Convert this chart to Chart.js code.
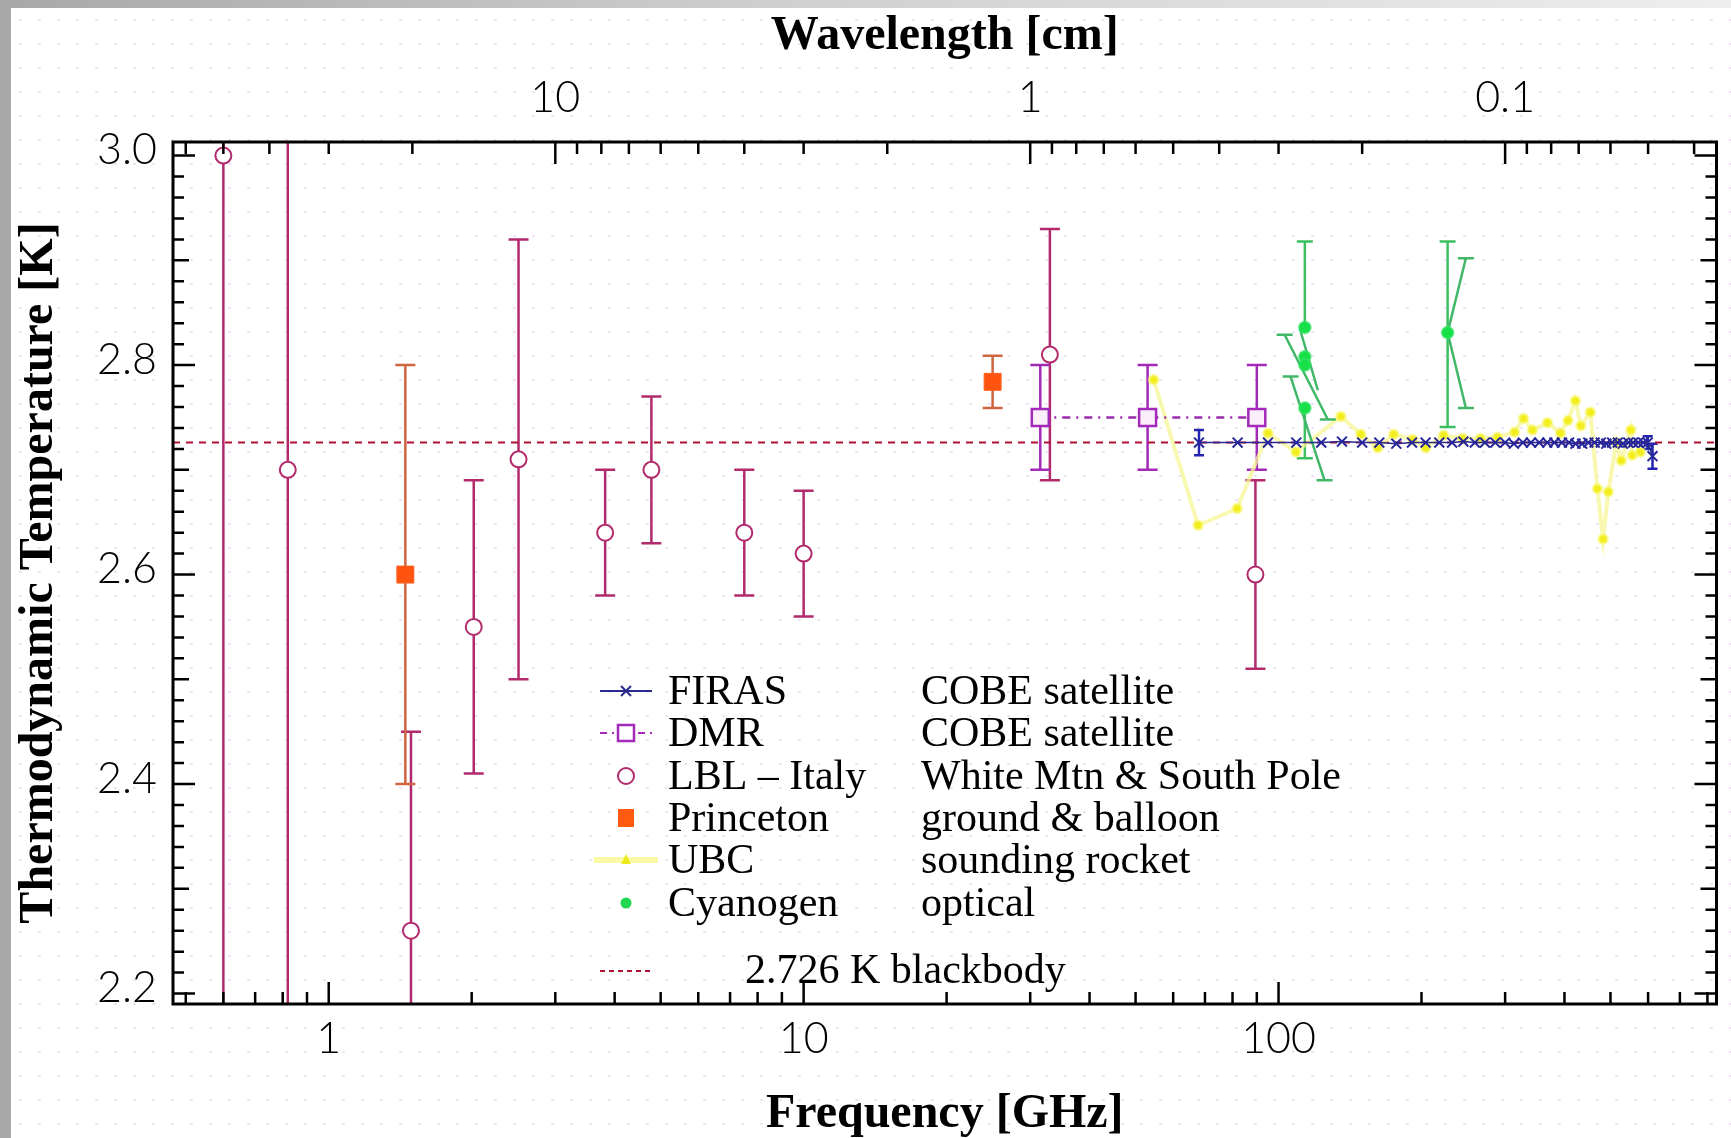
<!DOCTYPE html>
<html>
<head>
<meta charset="utf-8">
<title>CMB thermodynamic temperature</title>
<script src="https://cdn.jsdelivr.net/npm/chart.js@4.4.0/dist/chart.umd.min.js"></script>
<style>
  html, body { margin: 0; padding: 0; }
  body {
    width: 1731px; height: 1138px; overflow: hidden; position: relative;
    background: linear-gradient(90deg, #a8a8a8 0%, #cfcfcf 45%, #eeeeee 100%);
  }
  #panel {
    position: absolute; left: 11px; top: 8px; right: 0; bottom: 0;
    background-color: #fff;
    background-image: radial-gradient(circle, rgba(210,180,240,0.45) 0.9px, transparent 1.5px);
    background-size: 19px 24px;
  }
  #wrap { position: absolute; left: 0; top: 0; width: 1731px; height: 1138px; }
</style>
</head>
<body>
<div id="panel"></div>
<div id="wrap"><canvas id="myChart"></canvas></div>
<script>
// axis ranges (frequency in GHz, temperature in K)
const xMin = 0.47;
const xMax = 836;
const yMin = 2.19;
const yMax = 3.013;

// FIRAS - COBE satellite
const firasFreq = [68, 82, 95, 109, 123, 136, 150, 163, 177, 191, 204, 218, 232, 245, 259, 272,
  286, 300, 313, 327, 340, 354, 368, 381, 395, 409, 422, 436, 449, 463, 477, 490, 504, 518,
  531, 545, 558, 572, 586, 599, 613];
const firasTemp = [2.726, 2.726, 2.726, 2.726, 2.726, 2.727, 2.726, 2.726, 2.725, 2.726, 2.726,
  2.726, 2.726, 2.727, 2.726, 2.726, 2.726, 2.726, 2.725, 2.726, 2.726, 2.726, 2.726, 2.726,
  2.726, 2.726, 2.725, 2.725, 2.726, 2.726, 2.726, 2.725, 2.726, 2.726, 2.725, 2.726, 2.726,
  2.726, 2.726, 2.726, 2.713];
const firasErr = [0.012, 0, 0, 0, 0, 0, 0, 0, 0, 0, 0, 0, 0, 0, 0, 0, 0, 0, 0, 0, 0, 0, 0, 0,
  0, 0, 0, 0, 0, 0, 0, 0, 0, 0, 0, 0, 0, 0, 0, 0.006, 0.012];

// DMR - COBE satellite
const dmrFreq = [31.5, 53, 90];
const dmrTemp = [2.75, 2.75, 2.75];
const dmrErr = [0.05, 0.05, 0.05];

// LBL - Italy
const lblFreq = [0.6, 0.82, 1.49, 2.02, 2.51, 3.82, 4.78, 7.5, 10.0, 33.0, 89.4];
const lblTemp = [3.0, 2.70, 2.26, 2.55, 2.71, 2.64, 2.70, 2.64, 2.62, 2.81, 2.60];
const lblErr = [1.2, 1.6, 0.19, 0.14, 0.21, 0.06, 0.07, 0.06, 0.06, 0.12, 0.09];

// Princeton
const prFreq = [1.45, 25.0];
const prTemp = [2.60, 2.784];
const prErr = [0.20, 0.025];

// UBC - sounding rocket
const ubcFreq = [54.6, 67.7, 81.8, 95.0, 108.8, 135.3, 149.0, 161.8, 174.8, 191.6, 204.1, 222.6,
  244.1, 266.3, 289.1, 314.0, 328.0, 342.5, 368.3, 392.3, 406.8, 421.8, 433.1, 453.5, 469.2,
  482.4, 494.9, 514.4, 527.0, 551.8, 555.7, 577.7];
const ubcTemp = [2.786, 2.647, 2.663, 2.735, 2.717, 2.751, 2.734, 2.721, 2.734, 2.729, 2.721,
  2.733, 2.730, 2.730, 2.731, 2.736, 2.749, 2.738, 2.745, 2.735, 2.747, 2.766, 2.742, 2.755,
  2.682, 2.634, 2.679, 2.726, 2.709, 2.738, 2.714, 2.717];

// Cyanogen - optical
const cnFreq = [113.6, 113.6, 113.6, 113.6, 227];
const cnTemp = [2.836, 2.808, 2.800, 2.759, 2.831];
const cnErrUp = [0.082, 0, 0, 0, 0.087];
const cnErrDown = [0, 0, 0, 0.048, 0.090];
// slanted cyanogen segments (null = break)
const cnSlantFreq = [103, 127, 115, 106, 125, 115, 111, 121, 115, 248, 227, 248];
const cnSlantTemp = [2.829, 2.748, null, 2.789, 2.690, null, 2.834, 2.776, null, 2.902, 2.831, 2.759];
const cnSlantCap = [1, 1, 0, 1, 1, 0, 0, 0, 0, 1, 0, 1];

// 2.726 K blackbody
const bbTemp = 2.726;

// tick labels
const freqLabels = [1, 10, 100];
const waveLabels = [10, 1, 0.1];
const tempLabels = [2.2, 2.4, 2.6, 2.8, 3.0];

const toXY = (fs, ts) => fs.map((f, i) => ({x: f, y: ts[i]}));

function logTicks(lo, hi) {
    const out = [];
    for (let d = -3; d <= 3; d++) {
        for (let m = 1; m <= 9; m++) {
            const v = m * Math.pow(10, d);
            if (v >= lo && v <= hi) out.push(v);
        }
    }
    return out;
}
const isDecade = v => Math.abs(Math.log10(v) - Math.round(Math.log10(v))) < 1e-9;

const yTicks = [];
for (let i = 110; i <= 150; i++) yTicks.push(i / 50);

const errSets = [
    {freq: lblFreq, temp: lblTemp, up: lblErr, down: lblErr, color: '#b22a6c', cap: 10, width: 2.5},
    {freq: prFreq, temp: prTemp, up: prErr, down: prErr, color: '#cf6440', cap: 10, width: 2.5},
    {freq: dmrFreq, temp: dmrTemp, up: dmrErr, down: dmrErr, color: '#a32ab8', cap: 10, width: 2.5},
    {freq: cnFreq, temp: cnTemp, up: cnErrUp, down: cnErrDown, color: '#3cc060', cap: 8, width: 2.5},
    {freq: firasFreq, temp: firasTemp, up: firasErr, down: firasErr, color: '#2424b0', cap: 5, width: 2.5}
];

const errorBars = {
    id: 'errorBars',
    beforeDatasetsDraw(chart) {
        const {ctx, chartArea: a, scales: {x, y}} = chart;
        ctx.save();
        ctx.beginPath();
        ctx.rect(a.left, a.top, a.right - a.left, a.bottom - a.top);
        ctx.clip();
        errSets.forEach(s => {
            ctx.strokeStyle = s.color;
            ctx.lineWidth = s.width;
            s.freq.forEach((f, i) => {
                const up = s.up[i], dn = s.down[i];
                if (!up && !dn) return;
                const px = x.getPixelForValue(f);
                const yTop = y.getPixelForValue(s.temp[i] + up);
                const yBot = y.getPixelForValue(s.temp[i] - dn);
                ctx.beginPath();
                ctx.moveTo(px, yTop);
                ctx.lineTo(px, yBot);
                if (up) { ctx.moveTo(px - s.cap, yTop); ctx.lineTo(px + s.cap, yTop); }
                if (dn) { ctx.moveTo(px - s.cap, yBot); ctx.lineTo(px + s.cap, yBot); }
                ctx.stroke();
            });
        });
        ctx.restore();
    }
};

// frame with inward ticks on all four sides
const frameTicks = {
    id: 'frameTicks',
    afterDraw(chart) {
        const {ctx, chartArea: a, scales} = chart;
        ctx.save();
        ctx.strokeStyle = '#000';
        ctx.lineWidth = 2.5;
        ctx.beginPath();
        scales.x.ticks.forEach(t => {
            const px = scales.x.getPixelForValue(t.value);
            const len = isDecade(t.value) ? 22 : 12;
            ctx.moveTo(px, a.bottom); ctx.lineTo(px, a.bottom - len);
        });
        scales.x2.ticks.forEach(t => {
            const px = scales.x2.getPixelForValue(t.value);
            const len = isDecade(t.value) ? 22 : 12;
            ctx.moveTo(px, a.top); ctx.lineTo(px, a.top + len);
        });
        scales.y.ticks.forEach(t => {
            const py = scales.y.getPixelForValue(t.value);
            const k = Math.round(t.value * 50);
            const len = k % 10 === 0 ? 22 : (k % 5 === 0 ? 16 : 11);
            ctx.moveTo(a.left, py); ctx.lineTo(a.left + len, py);
            ctx.moveTo(a.right, py); ctx.lineTo(a.right - len, py);
        });
        ctx.stroke();
        ctx.lineWidth = 3;
        ctx.strokeRect(a.left, a.top, a.right - a.left, a.bottom - a.top);
        ctx.restore();
    }
};

// two-column legend drawn inside the plot
const legendRows = [
    {key: 'firas', name: 'FIRAS', desc: 'COBE satellite', base: 704},
    {key: 'dmr', name: 'DMR', desc: 'COBE satellite', base: 746},
    {key: 'lbl', name: 'LBL \u2013 Italy', desc: 'White Mtn & South Pole', base: 789},
    {key: 'pr', name: 'Princeton', desc: 'ground & balloon', base: 831},
    {key: 'ubc', name: 'UBC', desc: 'sounding rocket', base: 873},
    {key: 'cn', name: 'Cyanogen', desc: 'optical', base: 916}
];

const tableLegend = {
    id: 'tableLegend',
    afterDraw(chart) {
        const ctx = chart.ctx;
        const x0 = 600, x1 = 652, xc = 626, nameX = 668, descX = 921;
        ctx.save();
        ctx.fillStyle = '#000';
        ctx.font = '42px "Liberation Serif", "Times New Roman", serif';
        ctx.textBaseline = 'alphabetic';
        legendRows.forEach(r => {
            const cy = r.base - 13;
            ctx.fillStyle = '#000';
            ctx.fillText(r.name, nameX, r.base);
            ctx.fillText(r.desc, descX, r.base);
            ctx.save();
            if (r.key === 'firas') {
                ctx.strokeStyle = '#2a2a90'; ctx.lineWidth = 2;
                ctx.beginPath(); ctx.moveTo(x0, cy); ctx.lineTo(x1, cy);
                ctx.moveTo(xc - 5, cy - 5); ctx.lineTo(xc + 5, cy + 5);
                ctx.moveTo(xc - 5, cy + 5); ctx.lineTo(xc + 5, cy - 5);
                ctx.stroke();
            } else if (r.key === 'dmr') {
                ctx.strokeStyle = '#a32ab8'; ctx.lineWidth = 2;
                ctx.setLineDash([7, 5, 2, 5]);
                ctx.beginPath(); ctx.moveTo(x0, cy); ctx.lineTo(x1, cy); ctx.stroke();
                ctx.setLineDash([]);
                ctx.fillStyle = '#fff'; ctx.lineWidth = 2.5;
                ctx.fillRect(xc - 8, cy - 8, 16, 16);
                ctx.strokeRect(xc - 8, cy - 8, 16, 16);
            } else if (r.key === 'lbl') {
                ctx.strokeStyle = '#b22a6c'; ctx.lineWidth = 2;
                ctx.beginPath(); ctx.arc(xc, cy, 8, 0, Math.PI * 2); ctx.stroke();
            } else if (r.key === 'pr') {
                ctx.fillStyle = '#ff5a10';
                ctx.fillRect(xc - 8, cy - 9, 16, 18);
            } else if (r.key === 'ubc') {
                ctx.strokeStyle = 'rgba(248,248,150,0.85)'; ctx.lineWidth = 6;
                ctx.beginPath(); ctx.moveTo(x0 - 6, cy); ctx.lineTo(x1 + 6, cy); ctx.stroke();
                ctx.fillStyle = '#eeea20';
                ctx.beginPath(); ctx.moveTo(xc, cy - 6); ctx.lineTo(xc + 5, cy + 4); ctx.lineTo(xc - 5, cy + 4);
                ctx.closePath(); ctx.fill();
            } else if (r.key === 'cn') {
                ctx.fillStyle = '#20d850';
                ctx.beginPath(); ctx.arc(xc, cy, 5.5, 0, Math.PI * 2); ctx.fill();
            }
            ctx.restore();
        });
        // blackbody row
        ctx.strokeStyle = '#b01030'; ctx.lineWidth = 2;
        ctx.setLineDash([5, 4]);
        ctx.beginPath(); ctx.moveTo(x0, 971); ctx.lineTo(x1, 971); ctx.stroke();
        ctx.setLineDash([]);
        ctx.fillStyle = '#000';
        ctx.fillText('2.726 K blackbody', 745, 983);
        ctx.restore();
    }
};

const tickFont = {family: 'Lato, "Liberation Sans", sans-serif', size: 43, weight: 300};
const titleFont = {family: '"Liberation Serif", "Times New Roman", serif', size: 48, weight: 'bold'};

document.addEventListener("DOMContentLoaded", function () {
    const ctx = document.getElementById("myChart").getContext("2d");

    new Chart(ctx, {
        type: 'scatter',
        data: {
            datasets: [
                {
                    label: 'FIRAS',
                    data: toXY(firasFreq, firasTemp),
                    showLine: true,
                    borderColor: '#2a2a90',
                    borderWidth: 1.5,
                    pointStyle: 'crossRot',
                    pointRadius: 7,
                    pointBorderWidth: 2,
                    pointBorderColor: '#26269a',
                    pointBackgroundColor: '#26269a'
                },
                {
                    label: 'DMR',
                    data: toXY(dmrFreq, dmrTemp),
                    showLine: true,
                    borderColor: '#9a2aac',
                    borderWidth: 2.5,
                    borderDash: [8, 6, 2, 6],
                    pointStyle: 'rect',
                    pointRadius: 12,
                    pointBorderWidth: 2.5,
                    pointBorderColor: '#a32ab8',
                    pointBackgroundColor: '#fbeefb'
                },
                {
                    label: 'LBL - Italy',
                    data: toXY(lblFreq, lblTemp),
                    pointStyle: 'circle',
                    pointRadius: 8,
                    pointBorderWidth: 2,
                    pointBorderColor: '#b22a6c',
                    pointBackgroundColor: '#ffffff'
                },
                {
                    label: 'Princeton',
                    data: toXY(prFreq, prTemp),
                    pointStyle: 'rect',
                    pointRadius: 12,
                    pointBorderWidth: 1,
                    pointBorderColor: '#ff6020',
                    pointBackgroundColor: '#ff5410'
                },
                {
                    label: 'Cyanogen',
                    data: toXY(cnFreq, cnTemp),
                    pointStyle: 'circle',
                    pointRadius: 6,
                    pointBorderWidth: 2,
                    pointBorderColor: 'rgba(60,230,110,0.5)',
                    pointBackgroundColor: '#18e048'
                },
                {
                    label: 'Cyanogen slant',
                    data: toXY(cnSlantFreq, cnSlantTemp),
                    showLine: true,
                    spanGaps: false,
                    borderColor: '#40b868',
                    borderWidth: 2.5,
                    pointStyle: 'line',
                    pointRadius: ctx => cnSlantCap[ctx.dataIndex] ? 8 : 0,
                    pointBorderWidth: 2.5,
                    pointBorderColor: '#40b868'
                },
                {
                    label: 'UBC',
                    data: toXY(ubcFreq, ubcTemp),
                    showLine: true,
                    borderColor: 'rgba(246,246,150,0.75)',
                    borderWidth: 4,
                    pointStyle: 'circle',
                    pointRadius: 4.5,
                    pointBorderWidth: 3,
                    pointBorderColor: 'rgba(250,248,120,0.55)',
                    pointBackgroundColor: '#f2ee1c'
                },
                {
                    label: '2.726 K blackbody',
                    data: [{x: xMin, y: bbTemp}, {x: xMax, y: bbTemp}],
                    showLine: true,
                    borderColor: '#b01030',
                    borderWidth: 2,
                    borderDash: [7, 6],
                    pointRadius: 0
                }
            ]
        },
        options: {
            responsive: true,
            maintainAspectRatio: false,
            animation: false,
            layout: {padding: {left: 0, top: 0, right: 12, bottom: 0}},
            plugins: {
                legend: {display: false},
                tooltip: {enabled: false}
            },
            scales: {
                x: {
                    type: 'logarithmic',
                    position: 'bottom',
                    min: xMin,
                    max: xMax,
                    grid: {display: false},
                    border: {display: false},
                    afterBuildTicks: s => { s.ticks = logTicks(xMin, xMax).map(v => ({value: v})); },
                    afterFit: s => { s.height = 134; },
                    ticks: {
                        autoSkip: false, maxRotation: 0, minRotation: 0, padding: 1,
                        color: '#000', font: tickFont,
                        callback: v => freqLabels.some(l => Math.abs(l - v) < 1e-9) ? String(v) : ''
                    },
                    title: {display: true, text: 'Frequency [GHz]', color: '#000', font: titleFont,
                            padding: {top: 0, bottom: -5}}
                },
                x2: {
                    axis: 'x',
                    type: 'logarithmic',
                    position: 'top',
                    reverse: true,
                    min: 30 / xMax,
                    max: 30 / xMin,
                    grid: {display: false},
                    border: {display: false},
                    afterBuildTicks: s => { s.ticks = logTicks(30 / xMax, 30 / xMin).map(v => ({value: v})); },
                    afterFit: s => { s.height = 142; },
                    ticks: {
                        autoSkip: false, maxRotation: 0, minRotation: 0, padding: 10,
                        color: '#000', font: tickFont,
                        callback: v => waveLabels.some(l => Math.abs(l - v) < 1e-9) ? String(v) : ''
                    },
                    title: {display: true, text: 'Wavelength [cm]', color: '#000', font: titleFont,
                            padding: {top: 8, bottom: 0}}
                },
                y: {
                    type: 'linear',
                    position: 'left',
                    min: yMin,
                    max: yMax,
                    grid: {display: false},
                    border: {display: false},
                    afterBuildTicks: s => { s.ticks = yTicks.map(v => ({value: v})); },
                    afterFit: s => { s.width = 173; },
                    ticks: {
                        autoSkip: false, padding: 8, labelOffset: -5, color: '#000', font: tickFont,
                        callback: v => tempLabels.some(l => Math.abs(l - v) < 1e-9) ? v.toFixed(1) : ''
                    },
                    title: {display: true, text: 'Thermodynamic Temperature [K]', color: '#000', font: titleFont,
                            padding: {top: 11, bottom: 0}}
                }
            }
        },
        plugins: [errorBars, frameTicks, tableLegend]
    });
});
</script>
</body>
</html>
